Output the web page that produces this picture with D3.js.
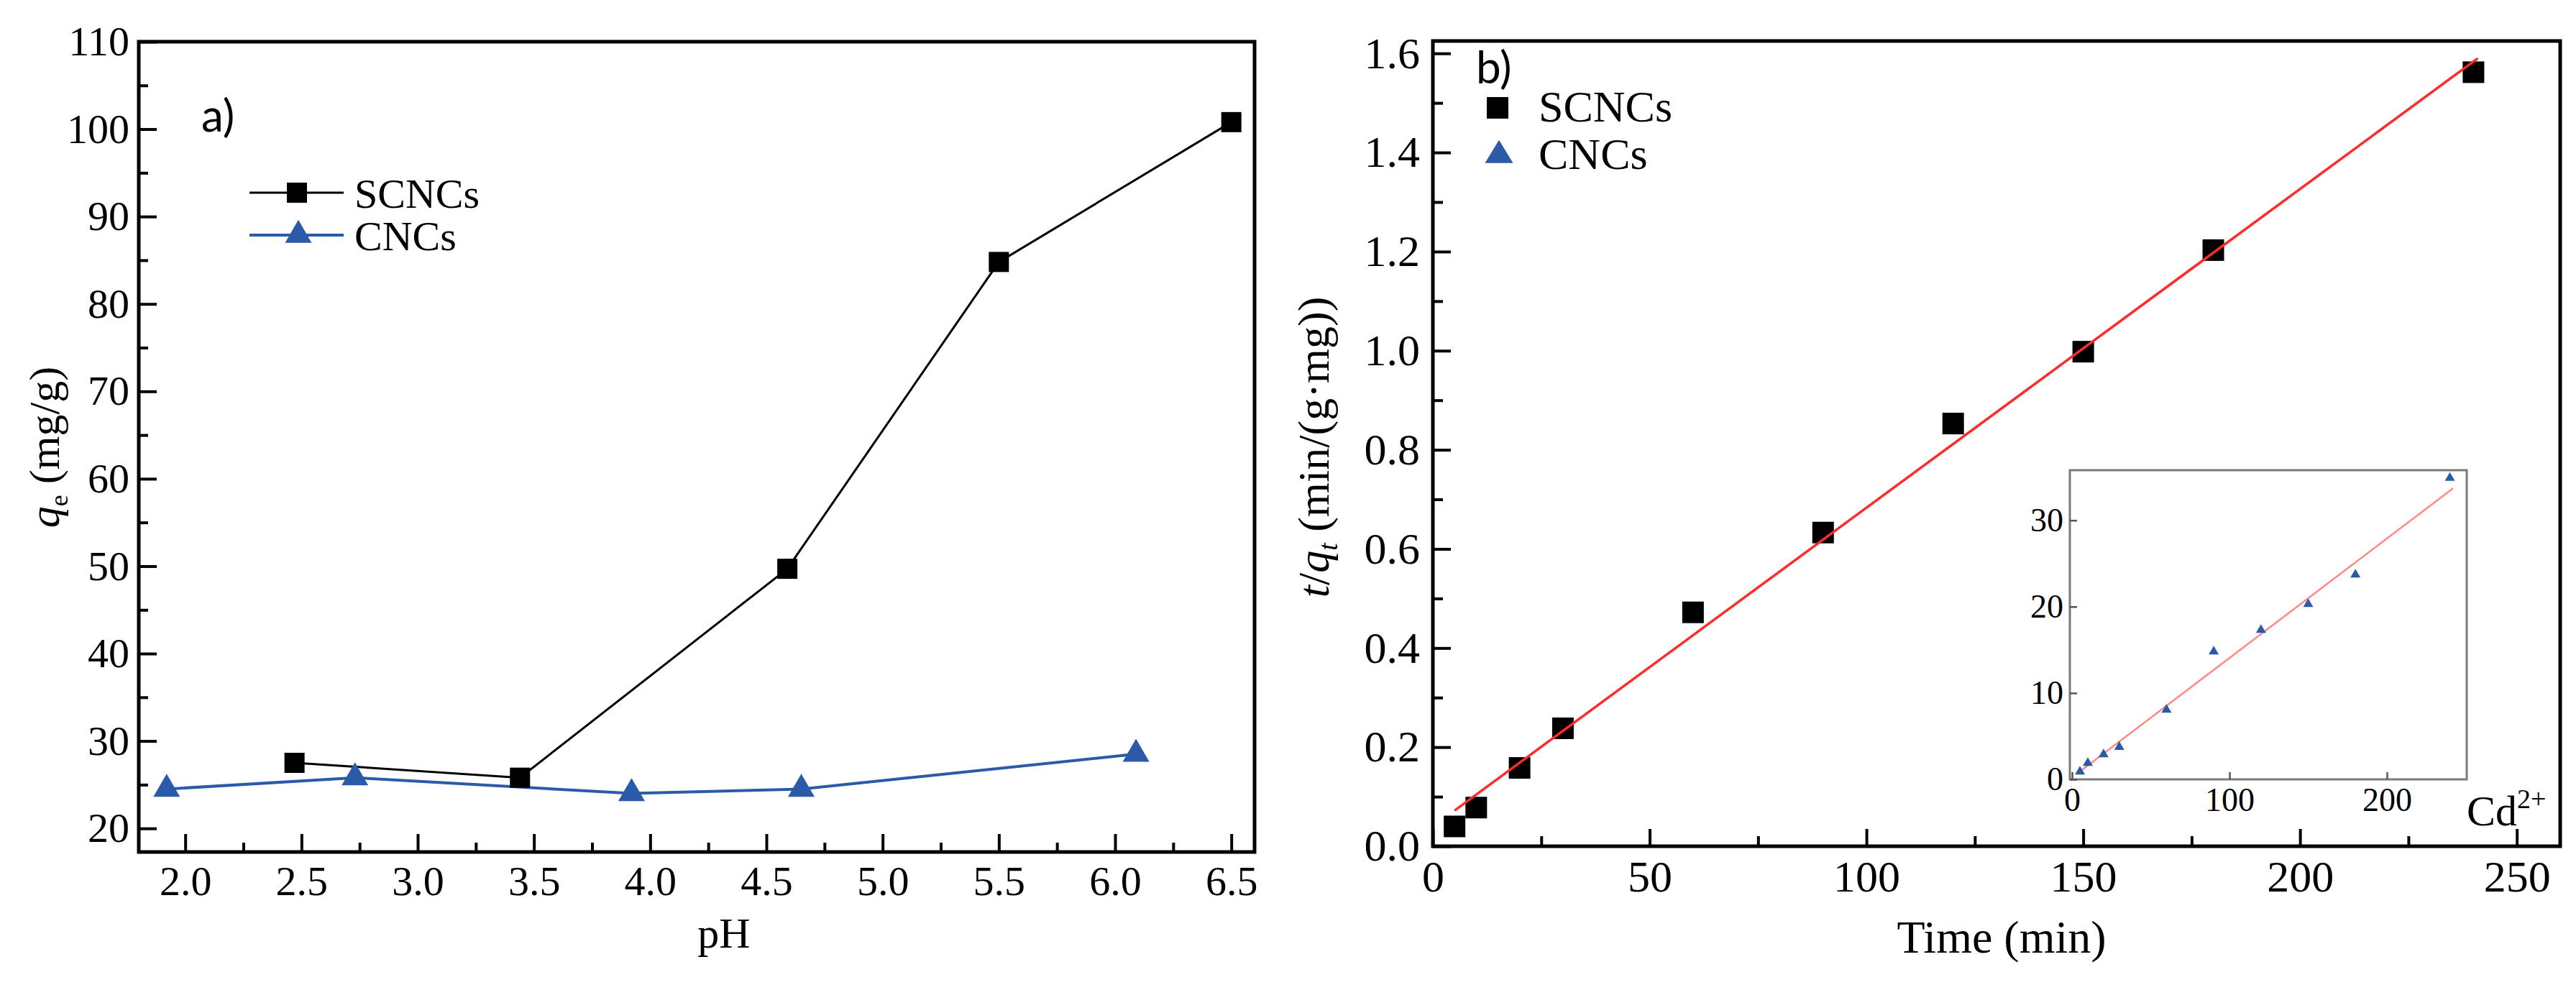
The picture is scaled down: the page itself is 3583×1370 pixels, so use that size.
<!DOCTYPE html>
<html>
<head>
<meta charset="utf-8">
<script src="https://cdn.jsdelivr.net/npm/d3@7"></script>
<style>
    body { margin: 0; background: #fff; }
    svg { display: block; }
    .serif { font-family: "Liberation Serif", "Times New Roman", serif; }
</style>
</head>
<body>
<div id="chart"></div>
<script>

// a) adsorption capacity vs pH
var phSCNCs = [2.47, 3.44, 4.59, 5.5, 6.5];
var qeSCNCs = [27.5, 25.8, 49.7, 84.8, 100.8];
var phCNCs = [1.92, 2.73, 3.92, 4.65, 6.09];
var qeCNCs = [24.5, 25.8, 24.0, 24.5, 28.5];
var phTicks = [2.0, 2.5, 3.0, 3.5, 4.0, 4.5, 5.0, 5.5, 6.0, 6.5];
var qeTicks = [20, 30, 40, 50, 60, 70, 80, 90, 100, 110];

// b) pseudo-second-order plot, SCNCs
var timeSCNCs = [5, 10, 20, 30, 60, 90, 120, 150, 180, 240];
var tqSCNCs = [0.04, 0.078, 0.158, 0.238, 0.472, 0.633, 0.853, 0.998, 1.203, 1.562];
var fitTime = [5, 241];
var fitTq = [0.072, 1.590];
var timeTicks = [0, 50, 100, 150, 200, 250];
var tqTicks = [0.0, 0.2, 0.4, 0.6, 0.8, 1.0, 1.2, 1.4, 1.6];

// inset, CNCs
var timeCNCs = [5, 10, 20, 30, 60, 90, 120, 150, 180, 240];
var tqCNCs = [0.9, 1.9, 2.9, 3.75, 8.05, 14.8, 17.3, 20.3, 23.7, 34.9];
var insetFitTime = [4, 242];
var insetFitTq = [0.78, 33.7];
var insetXTicks = [0, 100, 200];
var insetYTicks = [0, 10, 20, 30];

var serif = '"Liberation Serif", "Times New Roman", serif';
var sans = 'Lato, "Open Sans", sans-serif';
var blue = '#2a5aa8';
var red = '#ff2a2a';

var svg = d3.select('#chart').append('svg')
    .attr('width', 3583)
    .attr('height', 1370);

svg.append('rect').attr('width', 3583).attr('height', 1370).attr('fill', '#fff');

/* Midpoints between major ticks, used for the short ticks.*/
function minorTicks(major) {
    var out = [];
    for (var i = 0; i < major.length - 1; i++) {
        out.push((major[i] + major[i + 1]) / 2);
    }
    return out;
}

/* Triangle with its centroid on the origin.*/
function triPath(w, h) {
    return 'M0,' + (-2 * h / 3) + 'L' + (w / 2) + ',' + (h / 3)
        + 'L' + (-w / 2) + ',' + (h / 3) + 'Z';
}

/* Appends an axis, strips the domain line and styles ticks/labels.*/
function addAxis(parent, axis, tx, ty, fontSize, color, width) {
    var a = parent.append('g')
        .attr('transform', 'translate(' + tx + ',' + ty + ')')
        .call(axis);
    a.select('.domain').remove();
    a.attr('font-family', null).attr('font-size', null);
    a.selectAll('line').attr('stroke', color).attr('stroke-width', width);
    a.selectAll('text')
        .attr('class', 'serif')
        .style('font-family', serif)
        .style('font-size', fontSize + 'px')
        .attr('fill', '#000');
    return a;
}

// ---------- panel a ----------
var ax = {left: 193, right: 1745, top: 58, bottom: 1185};

var xA = d3.scaleLinear().domain([1.8, 6.6]).range([ax.left, ax.right]);
var yA = d3.scaleLinear().domain([17.3, 110]).range([ax.bottom, ax.top]);

var gA = svg.append('g');

addAxis(gA, d3.axisBottom(xA).tickValues(phTicks).tickFormat(d3.format('.1f'))
    .tickSize(-25).tickPadding(19), 0, ax.bottom, 58, '#000', 4);
addAxis(gA, d3.axisBottom(xA).tickValues(minorTicks(phTicks)).tickFormat('')
    .tickSize(-13), 0, ax.bottom, 58, '#000', 4);
addAxis(gA, d3.axisLeft(yA).tickValues(qeTicks).tickFormat(d3.format('d'))
    .tickSize(-25).tickPadding(13), ax.left, 0, 58, '#000', 4);
addAxis(gA, d3.axisLeft(yA).tickValues(minorTicks(qeTicks)).tickFormat('')
    .tickSize(-13), ax.left, 0, 58, '#000', 4);

gA.append('rect')
    .attr('x', ax.left).attr('y', ax.top)
    .attr('width', ax.right - ax.left).attr('height', ax.bottom - ax.top)
    .attr('fill', 'none').attr('stroke', '#000').attr('stroke-width', 5);

var lineA = d3.line()
    .x(function(d) { return xA(d[0]); })
    .y(function(d) { return yA(d[1]); });

var scncsA = d3.zip(phSCNCs, qeSCNCs);
var cncsA = d3.zip(phCNCs, qeCNCs);

gA.append('path').datum(cncsA)
    .attr('fill', 'none').attr('stroke', blue).attr('stroke-width', 4)
    .attr('d', lineA);
gA.append('path').datum(scncsA)
    .attr('fill', 'none').attr('stroke', '#000').attr('stroke-width', 3)
    .attr('d', lineA);

gA.selectAll('.tri-a').data(cncsA).enter()
    .append('path')
    .attr('class', 'tri-a')
    .attr('transform', function(d) { return 'translate(' + xA(d[0]) + ',' + yA(d[1]) + ')'; })
    .attr('d', triPath(37, 32))
    .attr('fill', blue);

gA.selectAll('.sq-a').data(scncsA).enter()
    .append('rect')
    .attr('class', 'sq-a')
    .attr('x', function(d) { return xA(d[0]) - 14; })
    .attr('y', function(d) { return yA(d[1]) - 14; })
    .attr('width', 28).attr('height', 28)
    .attr('fill', '#000');

// legend a
gA.append('line').attr('x1', 347).attr('x2', 478).attr('y1', 268).attr('y2', 268)
    .attr('stroke', '#000').attr('stroke-width', 3);
gA.append('rect').attr('x', 399).attr('y', 254).attr('width', 28).attr('height', 28)
    .attr('fill', '#000');
gA.append('line').attr('x1', 347).attr('x2', 478).attr('y1', 327).attr('y2', 327)
    .attr('stroke', blue).attr('stroke-width', 4);
gA.append('path').attr('transform', 'translate(415,327)')
    .attr('d', triPath(37, 32)).attr('fill', blue);
gA.append('text').attr('x', 493).attr('y', 289)
    .attr('font-family', serif).attr('font-size', 58).text('SCNCs');
gA.append('text').attr('x', 493).attr('y', 348)
    .attr('font-family', serif).attr('font-size', 58).text('CNCs');

gA.append('text').attr('x', 280).attr('y', 183)
    .attr('font-family', sans).attr('font-size', 62).text('a)');

// axis titles a
gA.append('text')
    .attr('x', 1007).attr('y', 1318)
    .attr('text-anchor', 'middle')
    .attr('font-family', serif).attr('font-size', 60)
    .text('pH');

var titleA = gA.append('text')
    .attr('transform', 'translate(82,622) rotate(-90)')
    .attr('text-anchor', 'middle')
    .attr('font-family', serif).attr('font-size', 60);
titleA.append('tspan').attr('font-style', 'italic').text('q');
titleA.append('tspan').attr('font-size', 36).attr('dy', 12).text('e');
titleA.append('tspan').attr('dy', -12).text(' (mg/g)');

// ---------- panel b ----------
var bx = {left: 1993, right: 3561, top: 57, bottom: 1177};

var xB = d3.scaleLinear().domain([0, 260]).range([bx.left, bx.right]);
var yB = d3.scaleLinear().domain([0, 1.625]).range([bx.bottom, bx.top]);

var gB = svg.append('g');

addAxis(gB, d3.axisBottom(xB).tickValues(timeTicks).tickFormat(d3.format('d'))
    .tickSize(-24).tickPadding(19), 0, bx.bottom, 62, '#000', 4);
addAxis(gB, d3.axisBottom(xB).tickValues(minorTicks(timeTicks)).tickFormat('')
    .tickSize(-14), 0, bx.bottom, 62, '#000', 4);
addAxis(gB, d3.axisLeft(yB).tickValues(tqTicks).tickFormat(d3.format('.1f'))
    .tickSize(-25).tickPadding(18), bx.left, 0, 62, '#000', 4);
addAxis(gB, d3.axisLeft(yB).tickValues(minorTicks(tqTicks)).tickFormat('')
    .tickSize(-14), bx.left, 0, 62, '#000', 4);

gB.append('rect')
    .attr('x', bx.left).attr('y', bx.top)
    .attr('width', bx.right - bx.left).attr('height', bx.bottom - bx.top)
    .attr('fill', 'none').attr('stroke', '#000').attr('stroke-width', 5);

var lineB = d3.line()
    .x(function(d) { return xB(d[0]); })
    .y(function(d) { return yB(d[1]); });

gB.selectAll('.sq-b').data(d3.zip(timeSCNCs, tqSCNCs)).enter()
    .append('rect')
    .attr('class', 'sq-b')
    .attr('x', function(d) { return xB(d[0]) - 15; })
    .attr('y', function(d) { return yB(d[1]) - 15; })
    .attr('width', 30).attr('height', 30)
    .attr('fill', '#000');

gB.append('path').datum(d3.zip(fitTime, fitTq))
    .attr('fill', 'none').attr('stroke', red).attr('stroke-width', 3.5)
    .attr('d', lineB);

// legend b
gB.append('rect').attr('x', 2068).attr('y', 135).attr('width', 30).attr('height', 30)
    .attr('fill', '#000');
gB.append('path').attr('transform', 'translate(2085,216)')
    .attr('d', triPath(39, 32)).attr('fill', blue);
gB.append('text').attr('x', 2140).attr('y', 169)
    .attr('font-family', serif).attr('font-size', 62).text('SCNCs');
gB.append('text').attr('x', 2140).attr('y', 235)
    .attr('font-family', serif).attr('font-size', 62).text('CNCs');

gB.append('text').attr('x', 2053).attr('y', 116)
    .attr('font-family', sans).attr('font-size', 62).text('b)');

gB.append('text')
    .attr('x', 2784).attr('y', 1325)
    .attr('text-anchor', 'middle')
    .attr('font-family', serif).attr('font-size', 64)
    .text('Time (min)');

var titleB = gB.append('text')
    .attr('transform', 'translate(1848,622) rotate(-90)')
    .attr('text-anchor', 'middle')
    .attr('font-family', serif).attr('font-size', 62);
titleB.append('tspan').attr('font-style', 'italic').text('t');
titleB.append('tspan').text('/');
titleB.append('tspan').attr('font-style', 'italic').text('q');
titleB.append('tspan').attr('font-style', 'italic').attr('font-size', 38).attr('dy', 12).text('t');
titleB.append('tspan').attr('dy', -12).text(' (min/(g\u00b7mg))');

// ---------- inset ----------
var ix = {left: 2879, right: 3431, top: 654, bottom: 1084};

var xI = d3.scaleLinear().domain([-1.4, 250.7]).range([ix.left, ix.right]);
var yI = d3.scaleLinear().domain([0, 35.8]).range([ix.bottom, ix.top]);

var gI = svg.append('g');

gI.append('rect')
    .attr('x', ix.left).attr('y', ix.top)
    .attr('width', ix.right - ix.left).attr('height', ix.bottom - ix.top)
    .attr('fill', '#fff').attr('stroke', '#7a7a7a').attr('stroke-width', 3);

addAxis(gI, d3.axisBottom(xI).tickValues(insetXTicks).tickFormat(d3.format('d'))
    .tickSize(-10).tickPadding(11), 0, ix.bottom, 46, '#555', 2.5);
addAxis(gI, d3.axisLeft(yI).tickValues(insetYTicks).tickFormat(d3.format('d'))
    .tickSize(-10).tickPadding(9), ix.left, 0, 46, '#555', 2.5);

var lineI = d3.line()
    .x(function(d) { return xI(d[0]); })
    .y(function(d) { return yI(d[1]); });

gI.append('path').datum(d3.zip(insetFitTime, insetFitTq))
    .attr('fill', 'none').attr('stroke', '#ff8a8a').attr('stroke-width', 2.5)
    .attr('d', lineI);

gI.selectAll('.tri-i').data(d3.zip(timeCNCs, tqCNCs)).enter()
    .append('path')
    .attr('class', 'tri-i')
    .attr('transform', function(d) { return 'translate(' + xI(d[0]) + ',' + yI(d[1]) + ')'; })
    .attr('d', triPath(14, 12))
    .attr('fill', blue);

var cd = gI.append('text')
    .attr('x', 3431).attr('y', 1148)
    .attr('font-family', serif).attr('font-size', 60);
cd.append('tspan').text('Cd');
cd.append('tspan').attr('font-size', 38).attr('dy', -24).text('2+');

</script>
</body>
</html>
